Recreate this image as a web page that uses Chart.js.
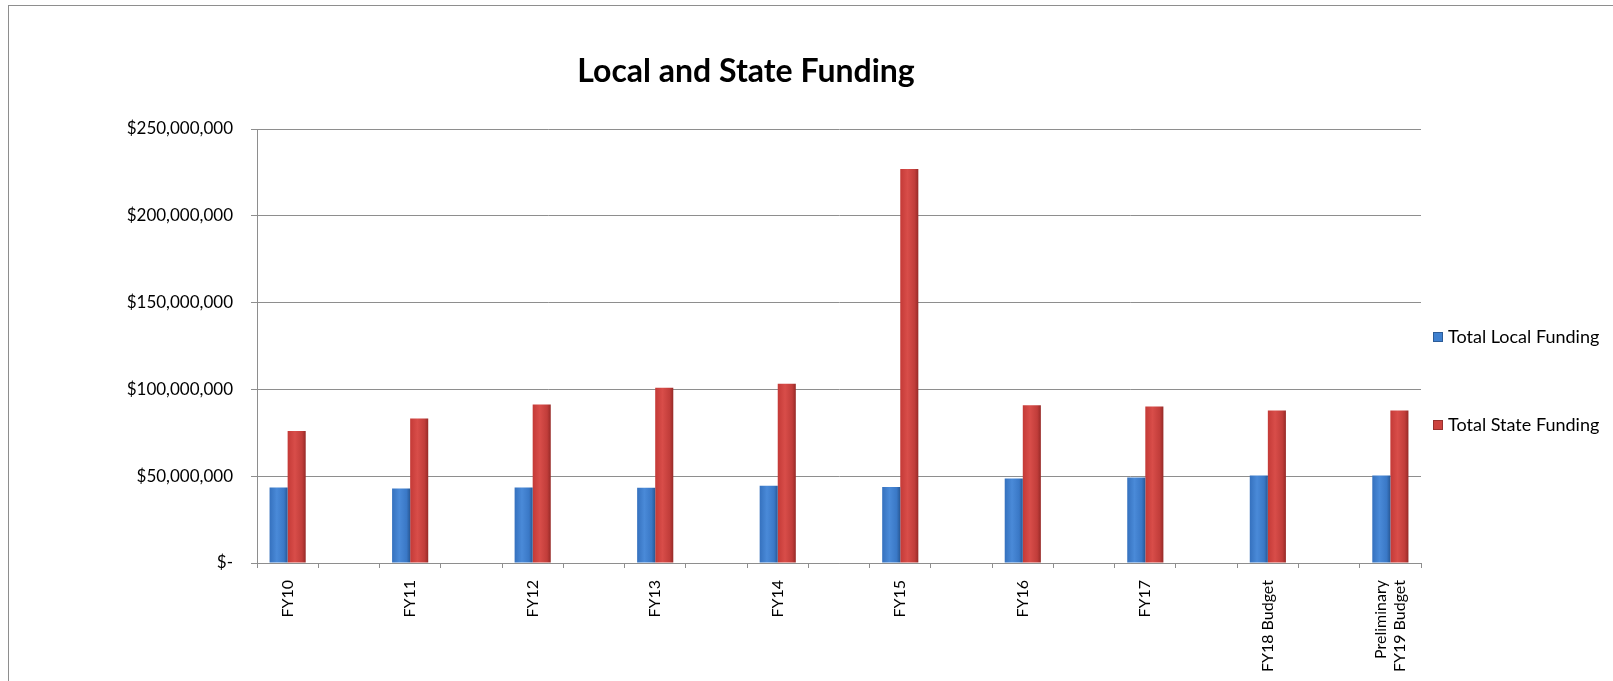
<!DOCTYPE html>
<html>
<head>
<meta charset="utf-8">
<script src="https://cdn.jsdelivr.net/npm/chart.js@4.4.1/dist/chart.umd.min.js"></script>
<style>
    html, body { margin: 0; padding: 0; background: #fff; overflow: hidden; }
    #frame { position: absolute; left: 8px; top: 5px; width: 1700px; height: 800px; border: 1px solid #8e8e8e; }
    #wrap { position: absolute; left: 0; top: 0; width: 1613px; height: 681px; }
</style>
</head>
<body>
<div id="frame"></div>
<div id="wrap"><canvas id="fundingChart"></canvas></div>
<script>
        // Chart data (dollars)
        const categories = ['FY10', 'FY11', 'FY12', 'FY13', 'FY14', 'FY15', 'FY16', 'FY17', 'FY18 Budget', ['Preliminary', 'FY19 Budget']];
        const totalLocal = [43500000, 42900000, 43500000, 43300000, 44500000, 43800000, 48700000, 49200000, 50400000, 50400000];
        const totalState = [76100000, 83300000, 91300000, 100900000, 103200000, 226900000, 90800000, 90200000, 87800000, 87800000];
        const yTicks = [0, 50000000, 100000000, 150000000, 200000000, 250000000];

        // Excel sheet has an empty row between the years, so insert blank slots
        const labels = [];
        const localData = [];
        const stateData = [];
        categories.forEach((cat, i) => {
            labels.push(cat);
            localData.push(totalLocal[i]);
            stateData.push(totalState[i]);
            if (i < categories.length - 1) {
                labels.push('');
                localData.push(null);
                stateData.push(null);
            }
        });

        const CAT_PCT = 0.59;
        const FONT = 'Lato, "Open Sans", sans-serif';

        // horizontal gradient per bar so the bars look a bit rounded like the Excel ones
        function barGradient(side, stops, flat) {
            return function (context) {
                const chart = context.chart;
                const xScale = chart.scales.x;
                if (!chart.chartArea || !xScale || context.dataIndex === undefined) return flat;
                const slot = xScale.width / chart.data.labels.length;
                const half = slot * CAT_PCT / 2;
                const c = xScale.getPixelForValue(context.dataIndex);
                const x0 = side === 'left' ? c - half : c;
                const g = chart.ctx.createLinearGradient(x0, 0, x0 + half, 0);
                stops.forEach(s => g.addColorStop(s[0], s[1]));
                return g;
            };
        }

        const blueStops = [[0, '#3571be'], [0.4, '#4a8ad8'], [0.8, '#3a78c6'], [1, '#285895']];
        const redStops = [[0, '#c43a37'], [0.4, '#d84d49'], [0.8, '#c13d3a'], [1, '#962a27']];

        const titlePlugin = {
            id: 'excelTitle',
            afterDraw(chart) {
                const ctx = chart.ctx;
                ctx.save();
                ctx.font = 'bold 32px ' + FONT;
                ctx.fillStyle = '#000';
                ctx.textAlign = 'center';
                ctx.textBaseline = 'alphabetic';
                ctx.fillText('Local and State Funding', 746, 82);
                ctx.restore();
            }
        };

        const legendPlugin = {
            id: 'excelLegend',
            afterDraw(chart) {
                const ctx = chart.ctx;
                const rows = [
                    { y: 337, color: '#3f80cf', edge: '#2c5c98' },
                    { y: 425, color: '#cc423e', edge: '#97302d' }
                ];
                ctx.save();
                ctx.font = '18px ' + FONT;
                ctx.textBaseline = 'middle';
                chart.data.datasets.forEach((ds, i) => {
                    const r = rows[i];
                    ctx.fillStyle = r.color;
                    ctx.fillRect(1433, r.y - 5, 10, 10);
                    ctx.strokeStyle = r.edge;
                    ctx.lineWidth = 1;
                    ctx.strokeRect(1433.5, r.y - 4.5, 9, 9);
                    ctx.fillStyle = '#000';
                    ctx.fillText(ds.label, 1448, r.y);
                });
                ctx.restore();
            }
        };

        // center two-line rotated labels on their slot (Chart.js puts the first line on the tick)
        const centerMultiline = {
            id: 'centerMultiline',
            beforeDraw(chart) {
                const items = chart.scales.x.getLabelItems();
                items.forEach(item => {
                    if (Array.isArray(item.label) && !item._shifted) {
                        item.options.translation[0] -= (item.label.length - 1) * item.font.lineHeight / 2;
                        item._shifted = true;
                    }
                });
            }
        };

        const ctx = document.getElementById('fundingChart').getContext('2d');
        const fundingChart = new Chart(ctx, {
            type: 'bar',
            data: {
                labels: labels,
                datasets: [
                    {
                        label: 'Total Local Funding',
                        data: localData,
                        backgroundColor: barGradient('left', blueStops, '#3f80cf'),
                        borderWidth: 0,
                        categoryPercentage: CAT_PCT,
                        barPercentage: 1.0
                    },
                    {
                        label: 'Total State Funding',
                        data: stateData,
                        backgroundColor: barGradient('right', redStops, '#cc423e'),
                        borderWidth: 0,
                        categoryPercentage: CAT_PCT,
                        barPercentage: 1.0
                    }
                ]
            },
            options: {
                responsive: true,
                maintainAspectRatio: false,
                animation: false,
                layout: {
                    padding: { left: 0, right: 192, top: 129, bottom: 0 }
                },
                plugins: {
                    legend: { display: false },
                    title: { display: false },
                    tooltip: { enabled: false }
                },
                scales: {
                    x: {
                        afterFit: s => { s.height = 118; },
                        grid: {
                            offset: true,
                            drawOnChartArea: false,
                            drawTicks: true,
                            tickLength: 5,
                            color: '#8e8e8e'
                        },
                        border: { display: true, color: '#8e8e8e', width: 1 },
                        ticks: {
                            autoSkip: false,
                            maxRotation: 90,
                            minRotation: 90,
                            padding: 12,
                            color: '#000',
                            font: { family: FONT, size: 16 }
                        }
                    },
                    y: {
                        min: 0,
                        max: 250000000,
                        afterFit: s => { s.width = 257; },
                        afterBuildTicks: s => { s.ticks = yTicks.map(v => ({ value: v })); },
                        grid: {
                            color: '#8e8e8e',
                            tickLength: 6
                        },
                        border: { display: true, color: '#8e8e8e', width: 1 },
                        ticks: {
                            padding: 18,
                            color: '#000',
                            font: { family: FONT, size: 17 },
                            callback: v => v === 0 ? '$-' : '$' + v.toLocaleString('en-US')
                        }
                    }
                }
            },
            plugins: [titlePlugin, legendPlugin, centerMultiline]
        });
</script>
</body>
</html>
